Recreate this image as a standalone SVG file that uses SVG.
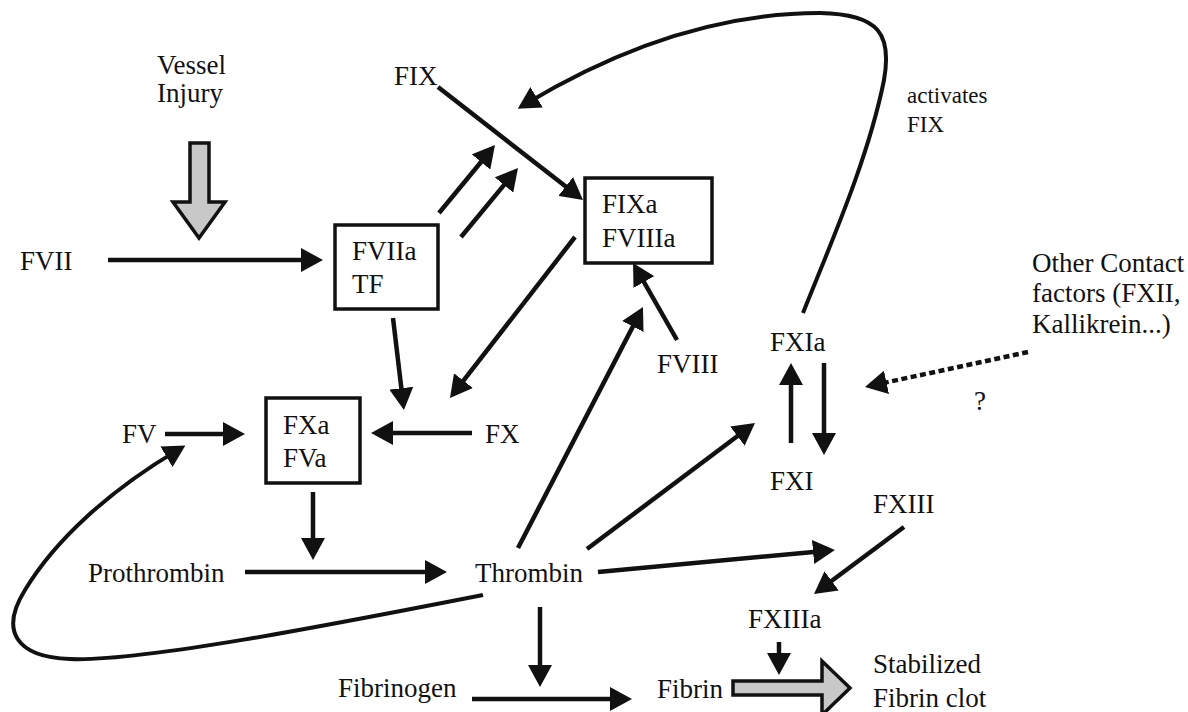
<svg xmlns="http://www.w3.org/2000/svg" width="1188" height="712" viewBox="0 0 1188 712">
<style>
text{font-family:"Liberation Serif","Tinos","DejaVu Serif","Noto Serif",serif;font-size:27px;fill:#111}
.small{font-size:23px}
.box{fill:#fff;stroke:#111;stroke-width:3.5}
.c{fill:none;stroke:#111;stroke-width:4.5}
.cv{fill:none;stroke:#111;stroke-width:4}
.dot{fill:none;stroke:#111;stroke-width:4.5;stroke-dasharray:6 3.5}
.big{fill:#c8c8c8;stroke:#111;stroke-width:3.5;stroke-linejoin:miter}
</style>
<defs>
<marker id="ah" viewBox="0 0 22 24" refX="14" refY="12" markerWidth="22" markerHeight="24" orient="auto" markerUnits="userSpaceOnUse">
<path d="M0,0 L22,12 L0,24 z" fill="#111"/>
</marker>
</defs>
<rect width="1188" height="712" fill="#fff"/>

<g id="connectors">
<line class="c" x1="108" y1="260" x2="315" y2="260" marker-end="url(#ah)"/>
<line class="c" x1="439" y1="213" x2="489.9" y2="151.2" marker-end="url(#ah)"/>
<line class="c" x1="461" y1="237" x2="512.9" y2="174.2" marker-end="url(#ah)"/>
<line class="c" x1="438" y1="87" x2="576.7" y2="195.1" marker-end="url(#ah)"/>
<line class="c" x1="575" y1="237" x2="454.9" y2="391.7" marker-end="url(#ah)"/>
<line class="c" x1="393" y1="318" x2="403" y2="402.1" marker-end="url(#ah)"/>
<line class="c" x1="472" y1="433" x2="379" y2="433" marker-end="url(#ah)"/>
<line class="c" x1="165" y1="434" x2="237" y2="434" marker-end="url(#ah)"/>
<line class="c" x1="313" y1="492" x2="313" y2="552" marker-end="url(#ah)"/>
<line class="c" x1="245" y1="572" x2="439" y2="572" marker-end="url(#ah)"/>
<line class="c" x1="518" y1="548" x2="639.3" y2="314.1" marker-end="url(#ah)"/>
<line class="c" x1="677" y1="340" x2="637" y2="269.9" marker-end="url(#ah)"/>
<line class="c" x1="587" y1="549" x2="748.6" y2="427.8" marker-end="url(#ah)"/>
<line class="c" x1="791" y1="443" x2="791" y2="371" marker-end="url(#ah)"/>
<line class="c" x1="824" y1="363" x2="824" y2="447" marker-end="url(#ah)"/>
<line class="c" x1="598" y1="572" x2="827" y2="550.7" marker-end="url(#ah)"/>
<line class="c" x1="904" y1="527" x2="820.4" y2="589.2" marker-end="url(#ah)"/>
<line class="c" x1="540" y1="607" x2="540" y2="679" marker-end="url(#ah)"/>
<line class="c" x1="472" y1="699" x2="624" y2="699" marker-end="url(#ah)"/>
<line class="c" x1="779" y1="642" x2="779" y2="667" stroke-width="3.5" marker-end="url(#ah)"/>
<line class="dot" x1="1028" y1="352" x2="872.8" y2="385.3" marker-end="url(#ah)"/>
<path class="cv" d="M803,313 C830,245 868,160 884,80 C892,35 880,14 820,13 C740,13 640,35 524.6,104.5" marker-end="url(#ah)"/>
<path class="cv" d="M483,595 C330,625 140,662 70,659 C15,657 0,630 25,590 C55,540 110,490 178.5,449.6" marker-end="url(#ah)"/>
<polygon class="big" points="190,143 209,143 209,202 225,202 199,238 173,202 190,202"/>
<polygon class="big" points="733,681 822,681 822,661 850,688 822,715 822,695 733,695"/>
</g>

<g id="vessel-injury"><text x="157" y="74">Vessel</text><text x="157" y="102">Injury</text></g>
<g id="fvii"><text x="20" y="270">FVII</text></g>
<g id="fviia-tf"><rect class="box" x="335" y="225" width="103" height="84"/><text x="352" y="260">FVIIa</text><text x="352" y="293">TF</text></g>
<g id="fix"><text x="394" y="85">FIX</text></g>
<g id="fixa-fviiia"><rect class="box" x="585" y="178" width="127" height="85"/><text x="602" y="213">FIXa</text><text x="602" y="247">FVIIIa</text></g>
<g id="activates-fix"><text class="small" x="907" y="103">activates</text><text class="small" x="907" y="132">FIX</text></g>
<g id="contact-factors"><text x="1032" y="272">Other Contact</text><text x="1032" y="302">factors (FXII,</text><text x="1032" y="333">Kallikrein...)</text></g>
<g id="question"><text x="974" y="410">?</text></g>
<g id="fxia"><text x="770" y="351">FXIa</text></g>
<g id="fviii"><text x="657" y="373">FVIII</text></g>
<g id="fv"><text x="122" y="443">FV</text></g>
<g id="fxa-fva"><rect class="box" x="266" y="398" width="94" height="85"/><text x="283" y="434">FXa</text><text x="283" y="467">FVa</text></g>
<g id="fx"><text x="485" y="443">FX</text></g>
<g id="fxi"><text x="770" y="490">FXI</text></g>
<g id="fxiii"><text x="873" y="513">FXIII</text></g>
<g id="prothrombin"><text x="88" y="582">Prothrombin</text></g>
<g id="thrombin"><text x="475" y="582">Thrombin</text></g>
<g id="fxiiia"><text x="748" y="628">FXIIIa</text></g>
<g id="fibrinogen"><text x="338" y="697">Fibrinogen</text></g>
<g id="fibrin"><text x="657" y="698">Fibrin</text></g>
<g id="clot"><text x="873" y="673">Stabilized</text><text x="873" y="707">Fibrin clot</text></g>
</svg>
